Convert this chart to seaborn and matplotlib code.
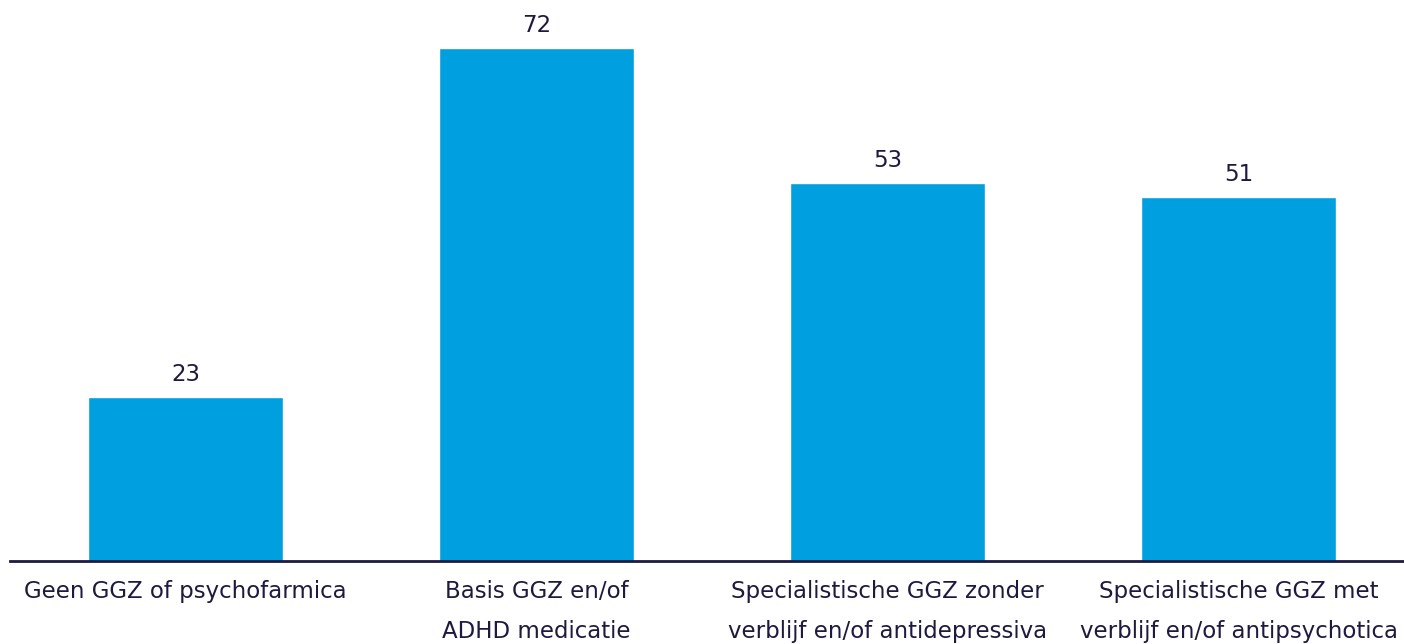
import numpy as np
import pandas as pd
import matplotlib
matplotlib.use("Agg")
import matplotlib.pyplot as plt
import seaborn as sns

# dati
categorie = [
    "Geen GGZ of psychofarmica",
    "Basis GGZ en/of\nADHD medicatie",
    "Specialistische GGZ zonder\nverblijf en/of antidepressiva",
    "Specialistische GGZ met\nverblijf en/of antipsychotica",
]
valori = [23, 72, 53, 51]

blu = "#009FDF"
testo = "#1E1A3F"

sns.set_theme(style="white")
plt.rcParams["font.family"] = ["DejaVu Sans"]

df = pd.DataFrame({"categoria": categorie, "valore": valori})

fig = plt.figure(figsize=(14.04, 6.44), dpi=100)
ax = fig.add_axes([10 / 1404, 83 / 644, 1394 / 1404, 561 / 644])

sns.barplot(data=df, x="categoria", y="valore", color=blu, saturation=1,
            width=0.555, ax=ax)

ax.bar_label(ax.containers[0], fmt="%d", padding=8, fontsize=16.5, color=testo)

ax.set_xlim(-0.5, 3.5 - 10 / 351)
ax.set_ylim(0, 78.7)
ax.set_xlabel("")
ax.set_ylabel("")
ax.set_yticks([])
for s in ["top", "right", "left"]:
    ax.spines[s].set_visible(False)
ax.spines["bottom"].set_color(testo)
ax.spines["bottom"].set_linewidth(2)
ax.tick_params(axis="x", length=0, pad=14, labelsize=16.5, colors=testo)
for t in ax.get_xticklabels():
    t.set_linespacing(1.9)

plt.savefig("out.png", dpi=100)
